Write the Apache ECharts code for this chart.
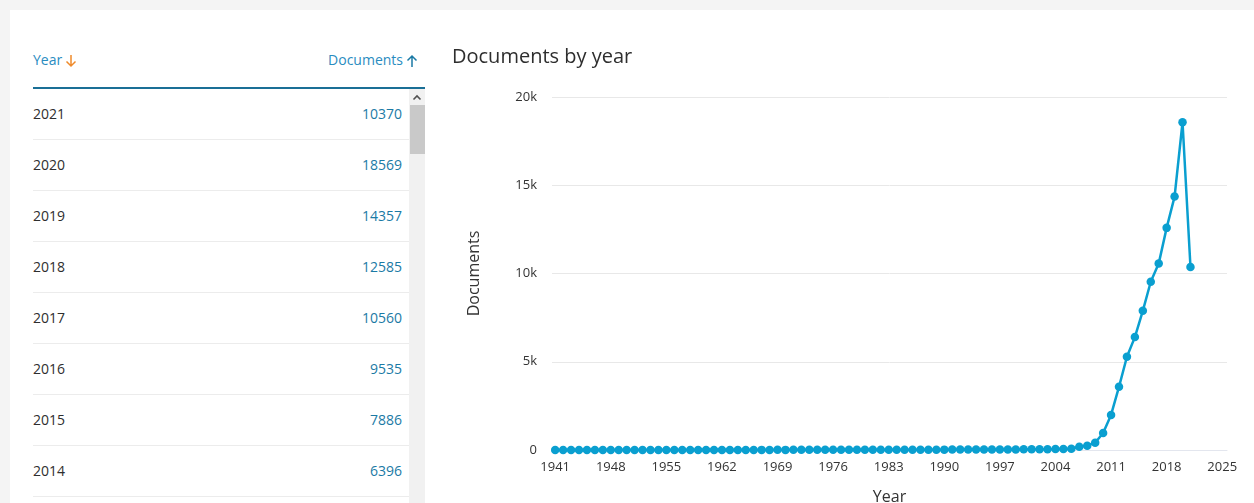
<!DOCTYPE html>
<html>
<head>
<meta charset="utf-8">
<script src="https://cdn.jsdelivr.net/npm/echarts@6/dist/echarts.min.js"></script>
<style>
  html, body { margin: 0; padding: 0; }
  body { width: 1254px; height: 503px; background: #f4f4f4; overflow: hidden; position: relative; font-family: "Open Sans", "Noto Sans", sans-serif; }
  #card { position: absolute; left: 10px; top: 10px; width: 1244px; height: 493px; background: #fff; }
  #thead { position: absolute; left: 33px; top: 50px; width: 392px; height: 22px; font-size: 14px; color: #2a8cbf; }
  #thead .y { position: absolute; left: 0; top: 0; white-space: nowrap; }
  #thead .d { position: absolute; right: 7px; top: 0; white-space: nowrap; }
  #thead svg { vertical-align: -3px; margin-left: 3px; }
  #hline { position: absolute; left: 33px; top: 87px; width: 392px; height: 2px; background: #1a6f96; }
  #rows { position: absolute; left: 33px; top: 89px; width: 376px; height: 414px; overflow: hidden; }
  .row { position: relative; height: 50px; border-bottom: 1px solid #ececec; font-size: 14px; }
  .row .y { position: absolute; left: 0; top: 15px; color: #2e2e2e; }
  .row .d { position: absolute; right: 7px; top: 15px; color: #1b7aa5; }
  #sbar { position: absolute; left: 409px; top: 89px; width: 16px; height: 414px; background: #f1f1f1; }
  #sbtn { position: absolute; left: 0; top: 0; width: 16px; height: 16px; }
  #sthumb { position: absolute; left: 1px; top: 16px; width: 15px; height: 49px; background: #c9c9c9; }
  #chart { position: absolute; left: 440px; top: 30px; width: 814px; height: 473px; }
</style>
</head>
<body>
<div id="card"></div>
<div id="thead">
  <span class="y">Year<svg width="12" height="14" viewBox="0 0 12 14"><path d="M6 1 V12 M1.5 7.5 L6 12 L10.5 7.5" fill="none" stroke="#ef8a2a" stroke-width="1.5"/></svg></span>
  <span class="d">Documents<svg width="12" height="14" viewBox="0 0 12 14"><path d="M6 13 V2 M1.5 6.5 L6 2 L10.5 6.5" fill="none" stroke="#1b7aa5" stroke-width="1.5"/></svg></span>
</div>
<div id="hline"></div>
<div id="rows"></div>
<div id="sbar"><div id="sbtn"><svg width="16" height="16" viewBox="0 0 16 16"><path d="M4.5 9.5 L8 6 L11.5 9.5" fill="none" stroke="#505050" stroke-width="1.6"/></svg></div><div id="sthumb"></div></div>
<div id="chart"></div>
<script>
const years = [
  1941,1942,1943,1944,1945,1946,1947,1948,1949,1950,
  1951,1952,1953,1954,1955,1956,1957,1958,1959,1960,
  1961,1962,1963,1964,1965,1966,1967,1968,1969,1970,
  1971,1972,1973,1974,1975,1976,1977,1978,1979,1980,
  1981,1982,1983,1984,1985,1986,1987,1988,1989,1990,
  1991,1992,1993,1994,1995,1996,1997,1998,1999,2000,
  2001,2002,2003,2004,2005,2006,2007,2008,2009,2010,
  2011,2012,2013,2014,2015,2016,2017,2018,2019,2020,
  2021
];
const documents = [
  1,0,1,0,1,1,2,1,2,1,
  2,1,2,3,2,3,3,4,3,4,
  4,5,4,6,5,6,7,6,8,7,
  8,9,8,10,9,11,10,12,13,12,
  14,13,15,16,15,17,18,20,19,21,
  22,24,23,26,28,27,30,32,35,38,
  40,44,48,52,58,70,187,244,415,966,
  1989,3580,5284,6396,7886,9535,10560,12585,14357,18569,
  10370
];
const xTickLabels = [1941,1948,1955,1962,1969,1976,1983,1990,1997,2004,2011,2018,2025];
const yTickValues = [0,5000,10000,15000,20000];
const yTickLabels = ['0','5k','10k','15k','20k'];

// table rows (descending by year)
const rowsEl = document.getElementById('rows');
for (let i = years.length - 1; i >= 0; i--) {
  const r = document.createElement('div');
  r.className = 'row';
  r.innerHTML = '<span class="y">' + years[i] + '</span><span class="d">' + documents[i] + '</span>';
  rowsEl.appendChild(r);
}

const chart = echarts.init(document.getElementById('chart'), null, { renderer: 'canvas' });
const FONT = '"Open Sans", "Noto Sans", sans-serif';
chart.setOption({
  animation: false,
  title: {
    text: 'Documents by year', left: 7, top: 12,
    textStyle: { fontFamily: FONT, fontSize: 20, fontWeight: 'normal', color: '#2e2e2e' }
  },
  grid: { left: 112, right: 27, top: 67, bottom: 53, outerBoundsMode: 'none', containLabel: false },
  xAxis: {
    type: 'value', min: 1940.6, max: 2025.6,
    name: 'Year', nameLocation: 'middle', nameGap: 39,
    nameTextStyle: { fontFamily: FONT, fontSize: 16, color: '#333' },
    axisLine: { show: true, lineStyle: { color: '#e3e6ee', width: 1 } },
    axisTick: { show: false },
    splitLine: { show: false },
    axisLabel: {
      customValues: xTickLabels, fontFamily: FONT, fontSize: 13, color: '#333', margin: 11,
      showMinLabel: true, showMaxLabel: true,
      formatter: function (v) { return String(v); }
    }
  },
  yAxis: {
    type: 'value', min: 0, max: 20000, interval: 5000,
    name: 'Documents', nameLocation: 'middle', nameGap: 70, nameRotate: 90,
    nameTextStyle: { fontFamily: FONT, fontSize: 16, color: '#333' },
    axisLine: { show: false }, axisTick: { show: false },
    splitLine: { lineStyle: { color: '#e8e8e8', width: 1 } },
    axisLabel: {
      fontFamily: FONT, fontSize: 13, color: '#333', margin: 15,
      formatter: function (v) { const k = yTickValues.indexOf(v); return k >= 0 ? yTickLabels[k] : ''; }
    }
  },
  series: [{
    type: 'line',
    data: years.map((y, i) => [y, documents[i]]),
    symbol: 'circle', symbolSize: 8.5,
    lineStyle: { color: '#0a9fd0', width: 2.5 },
    itemStyle: { color: '#0a9fd0' }
  }]
});
</script>
</body>
</html>
